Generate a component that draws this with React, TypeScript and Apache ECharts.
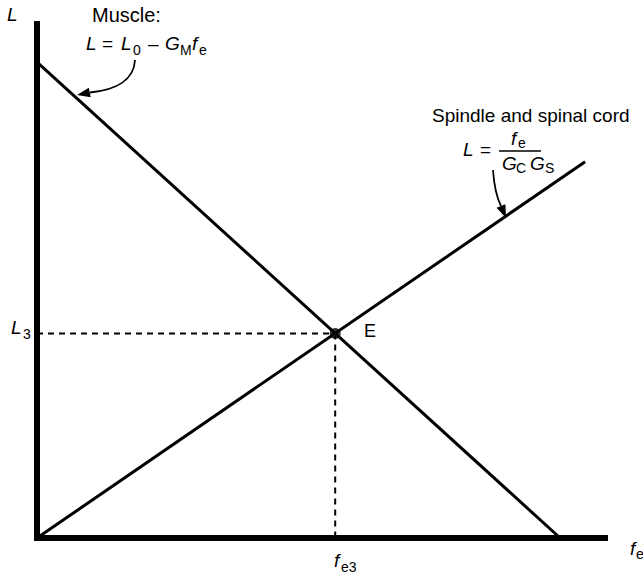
import React, { useEffect, useRef } from "react";
import * as echarts from "echarts";

// Muscle characteristic: L = L0 - GM * fe (endpoints in fe / L units)
const muscleFe = [0, 9.21];
const muscleL = [9.26, 0];

// Spindle and spinal cord characteristic: L = fe / (GC GS)
const spindleFe = [0, 9.65];
const spindleL = [0, 7.32];

// Equilibrium point E
const equilibriumFe = [5.25];
const equilibriumL = [3.98];

const FONT = '"Liberation Sans", Arial, Helvetica, sans-serif';

type TextOpt = { text: string; x: number; y: number; size?: number; italic?: boolean };

function txt({ text, x, y, size = 19, italic = false }: TextOpt) {
  return {
    type: "text",
    x,
    y,
    silent: true,
    style: {
      text,
      fill: "#000",
      font: `${italic ? "italic " : ""}${size}px ${FONT}`,
      textAlign: "left",
      textVerticalAlign: "middle",
      verticalAlign: "middle",
    },
  };
}

function arrowHead(tip: [number, number], from: [number, number], len = 13, half = 4.8) {
  const dx = tip[0] - from[0];
  const dy = tip[1] - from[1];
  const d = Math.hypot(dx, dy);
  const ux = dx / d;
  const uy = dy / d;
  const bx = tip[0] - ux * len;
  const by = tip[1] - uy * len;
  return {
    type: "polygon",
    silent: true,
    shape: {
      points: [
        tip,
        [bx - uy * half, by + ux * half],
        [bx + uy * half, by - ux * half],
      ],
    },
    style: { fill: "#000" },
  };
}

export default function App() {
  const ref = useRef<HTMLDivElement>(null);

  useEffect(() => {
    if (!ref.current) return;
    const chart = echarts.init(ref.current, undefined, { renderer: "svg" });

    const musclePts = muscleFe.map((f, i) => [f, muscleL[i]]);
    const spindlePts = spindleFe.map((f, i) => [f, spindleL[i]]);
    const fe3 = equilibriumFe[0];
    const L3 = equilibriumL[0];

    const axisCommon = {
      type: "value" as const,
      min: 0,
      max: 10,
      axisLine: {
        show: true,
        onZero: false,
        lineStyle: { color: "#000", width: 6, cap: "square" },
      },
      axisTick: { show: false },
      axisLabel: { show: false },
      splitLine: { show: false },
    };

    chart.setOption({
      animation: false,
      backgroundColor: "#fff",
      grid: { left: 37, right: 38, top: 24, bottom: 39 },
      xAxis: { ...axisCommon },
      yAxis: { ...axisCommon },
      series: [
        {
          type: "line",
          name: "L3 guide",
          data: [
            [0, L3],
            [fe3, L3],
          ],
          showSymbol: false,
          silent: true,
          z: 1,
          lineStyle: { color: "#000", width: 2, type: [6, 5] },
        },
        {
          type: "line",
          name: "fe3 guide",
          data: [
            [fe3, L3],
            [fe3, 0],
          ],
          showSymbol: false,
          silent: true,
          z: 1,
          lineStyle: { color: "#000", width: 2, type: [6, 5] },
        },
        {
          type: "line",
          name: "Muscle",
          data: musclePts,
          showSymbol: false,
          silent: true,
          z: 2,
          lineStyle: { color: "#000", width: 3 },
        },
        {
          type: "line",
          name: "Spindle and spinal cord",
          data: spindlePts,
          showSymbol: false,
          silent: true,
          z: 2,
          lineStyle: { color: "#000", width: 3 },
        },
        {
          type: "scatter",
          name: "E",
          data: [[fe3, L3]],
          symbol: "circle",
          symbolSize: 11,
          silent: true,
          z: 3,
          itemStyle: { color: "#000" },
        },
      ],
      graphic: [
        // axis titles
        txt({ text: "L", x: 7, y: 14, italic: true }),
        txt({ text: "f", x: 630, y: 548, italic: true }),
        txt({ text: "e", x: 636, y: 554, size: 14 }),
        // equilibrium labels
        txt({ text: "L", x: 11, y: 327, italic: true }),
        txt({ text: "3", x: 23, y: 334, size: 14 }),
        txt({ text: "f", x: 334, y: 560, italic: true }),
        txt({ text: "e3", x: 341, y: 567, size: 14 }),
        txt({ text: "E", x: 364, y: 331, size: 18 }),

        // muscle annotation
        txt({ text: "Muscle:", x: 92, y: 15, size: 20 }),
        txt({ text: "L", x: 86, y: 43, italic: true }),
        txt({ text: "=", x: 102, y: 43 }),
        txt({ text: "L", x: 121, y: 43, italic: true }),
        txt({ text: "0", x: 133, y: 50, size: 14 }),
        txt({ text: "\u2013", x: 148, y: 43 }),
        txt({ text: "G", x: 165, y: 43, italic: true }),
        txt({ text: "M", x: 180, y: 50, size: 14 }),
        txt({ text: "f", x: 192, y: 43, italic: true }),
        txt({ text: "e", x: 199, y: 50, size: 14 }),
        {
          type: "bezierCurve",
          silent: true,
          shape: {
            x1: 135,
            y1: 60,
            cpx1: 134,
            cpy1: 80,
            cpx2: 116,
            cpy2: 90,
            x2: 90,
            y2: 92.5,
          },
          style: { stroke: "#000", lineWidth: 1.8, fill: null },
        },
        arrowHead([77, 95], [92, 92]),

        // spindle annotation
        txt({ text: "Spindle and spinal cord", x: 432, y: 115 }),
        txt({ text: "L", x: 463, y: 149, italic: true }),
        txt({ text: "=", x: 480, y: 149 }),
        txt({ text: "f", x: 511, y: 138, italic: true }),
        txt({ text: "e", x: 518, y: 143, size: 14 }),
        {
          type: "line",
          silent: true,
          shape: { x1: 499, y1: 151, x2: 541, y2: 151 },
          style: { stroke: "#000", lineWidth: 1.3 },
        },
        txt({ text: "G", x: 502, y: 163, italic: true }),
        txt({ text: "C", x: 516, y: 168, size: 14 }),
        txt({ text: "G", x: 530, y: 163, italic: true }),
        txt({ text: "S", x: 545, y: 168, size: 14 }),
        {
          type: "bezierCurve",
          silent: true,
          shape: {
            x1: 493,
            y1: 170,
            cpx1: 494,
            cpy1: 185,
            cpx2: 497,
            cpy2: 198,
            x2: 501,
            y2: 206,
          },
          style: { stroke: "#000", lineWidth: 1.8, fill: null },
        },
        arrowHead([506, 218], [501, 206]),
      ],
    });

    return () => chart.dispose();
  }, []);

  return (
    <div
      ref={ref}
      style={{ position: "fixed", left: 0, top: 0, width: 643, height: 577, background: "#fff" }}
    />
  );
}
